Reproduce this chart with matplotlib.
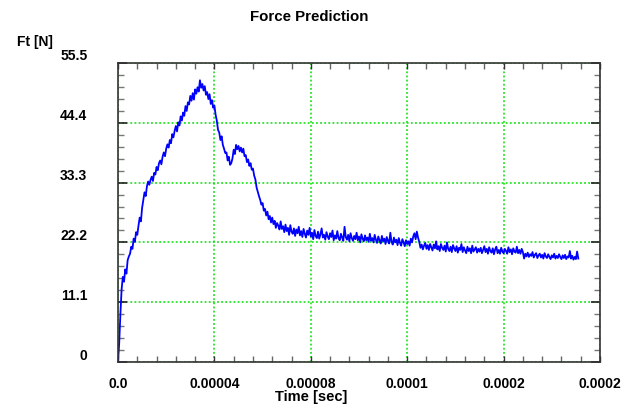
import matplotlib
matplotlib.use("Agg")
import matplotlib.pyplot as plt
from matplotlib.ticker import FixedLocator, FixedFormatter, MultipleLocator
from matplotlib.transforms import ScaledTranslation

plt.rcParams['font.family'] = ['Liberation Sans', 'DejaVu Sans']

# Sampling step of the force signal (seconds)
time_step = 0.5e-6
force = [
    0, 3.5, 9.0, 13.5, 15.8, 14.9, 17.2, 16.4, 18.9, 19.6,
    20.1, 21.4, 21.0, 22.9, 22.3, 24.1, 23.6, 25.3, 26.8, 26.1,
    28.6, 30.1, 31.5, 30.8, 32.6, 33.5, 32.9, 33.8, 34.4, 33.6,
    35.1, 34.8, 36.2, 35.6, 36.9, 37.4, 36.7, 38.1, 38.9, 38.2,
    39.6, 40.4, 39.8, 41.2, 40.6, 42.3, 41.7, 42.9, 43.8, 42.8,
    44.5, 43.9, 45.6, 44.8, 46.3, 45.7, 47.5, 46.6, 48.2, 47.8,
    49.4, 48.5, 49.9, 48.7, 50.6, 49.8, 51.0, 50.2, 52.3, 50.9,
    51.6, 50.4, 51.2, 49.6, 50.1, 48.8, 49.7, 47.9, 48.6, 47.2,
    47.6, 45.9, 44.8, 43.1, 42.6, 41.2, 41.9, 40.3, 39.6, 38.8,
    38.9, 37.4, 38.1, 36.6, 36.9, 37.8, 39.4, 38.6, 40.3, 39.5,
    40.1, 39.1, 39.8, 38.9, 39.6, 38.2, 38.4, 37.1, 37.6, 36.4,
    36.9, 35.7, 35.9, 34.6, 33.9, 32.4, 31.6, 30.8, 30.1, 29.2,
    29.5, 28.1, 28.4, 27.2, 27.9, 26.5, 27.1, 25.9, 26.8, 25.6,
    26.2, 24.9, 25.8, 25.3, 24.6, 26.1, 24.7, 25.2, 24.1, 25.5,
    24.3, 24.9, 23.6, 25.4, 24.2, 23.8, 24.8, 23.4, 24.6, 23.9,
    25.1, 23.5, 24.3, 23.2, 24.7, 23.8, 23.1, 24.4, 23.6, 24.9,
    23.3, 24.0, 22.8, 24.5, 23.4, 23.0, 24.2, 22.9, 23.7, 24.8,
    23.1, 23.6, 22.7, 24.1, 23.3, 22.8, 23.9, 23.2, 24.4, 22.6,
    23.5, 22.9, 24.3, 23.0, 22.6, 23.8, 23.1, 22.5, 25.1, 23.2,
    22.7, 23.6, 22.4, 23.9, 23.0, 22.5, 23.4, 22.8, 24.0, 22.6,
    23.3, 22.2, 23.7, 22.9, 22.4, 23.5, 22.6, 23.1, 22.3, 23.8,
    22.5, 23.0, 22.2, 23.6, 22.7, 22.1, 23.3, 22.6, 22.0, 23.4,
    22.4, 22.9, 21.9, 23.2, 22.5, 22.0, 24.0, 22.3, 21.8, 23.1,
    22.2, 22.7, 21.7, 23.0, 22.1, 21.6, 22.8, 22.2, 21.5, 22.6,
    21.9, 22.4, 21.6, 22.9, 22.2, 23.3, 23.9, 22.8, 24.2, 23.1,
    22.3, 21.2, 21.8, 20.9, 21.6, 22.1, 21.0, 21.7, 20.8, 21.9,
    21.3, 20.7, 21.8, 21.1, 22.4, 20.9, 21.5, 20.6, 21.9, 21.2,
    20.8, 21.6, 20.5, 22.2, 21.0, 20.6, 21.4, 20.4, 21.7, 21.1,
    20.6, 21.5, 20.3, 21.2, 20.8, 21.9, 20.4, 21.3, 20.7, 20.2,
    21.4, 20.6, 21.1, 20.2, 21.6, 20.5, 20.9, 21.3, 20.3, 21.0,
    20.5, 21.2, 20.2, 20.8, 21.5, 20.4, 21.0, 20.1, 21.3, 20.6,
    20.3, 21.1, 20.0, 20.9, 21.4, 20.2, 20.8, 20.1, 21.2, 20.5,
    20.2, 21.0, 20.6, 20.1, 21.3, 20.4, 20.9, 20.0, 21.1, 20.5,
    20.3, 21.4, 20.2, 20.8, 20.1, 21.0, 20.4, 19.2, 20.1, 19.6,
    20.3, 19.5, 20.0, 19.7, 20.4, 19.4, 19.9, 20.2, 19.3, 19.8,
    20.1, 19.4, 19.9, 19.2, 20.2, 19.6, 19.3, 20.0, 19.5, 19.1,
    19.8, 19.4, 20.1, 19.2, 19.7, 19.3, 20.0, 19.5, 19.1, 19.8,
    19.3, 19.9, 19.1, 19.6, 19.4, 20.6, 19.2, 19.7, 19.0, 19.5,
    19.1, 20.5, 19.2,
]
time = [i * time_step for i in range(len(force))]

x_ticks = [0.0, 0.00004, 0.00008, 0.00012, 0.00016, 0.0002]
x_tick_labels = ['0.0', '0.00004', '0.00008', '0.0001', '0.0002', '0.0002']
y_ticks = [0, 11.1, 22.2, 33.3, 44.4, 55.5]
y_tick_labels = ['0', '11.1', '22.2', '33.3', '44.4', '55.5']

fig = plt.figure(figsize=(6.33, 4.07), dpi=100)
ax = fig.add_axes([118/633, 45/407, 482/633, 299/407])

ax.plot(time, force, color='#0000ff', linewidth=1.3)

ax.set_xlim(0, 0.0002)
ax.set_ylim(0, 55.5)
ax.xaxis.set_major_locator(FixedLocator(x_ticks))
ax.xaxis.set_major_formatter(FixedFormatter(x_tick_labels))
ax.xaxis.set_minor_locator(MultipleLocator(0.000008))
ax.yaxis.set_major_locator(FixedLocator(y_ticks))
ax.yaxis.set_major_formatter(FixedFormatter(y_tick_labels))
ax.yaxis.set_minor_locator(MultipleLocator(2.22))

ax.grid(True, which='major', color='#00e000', linestyle=(0, (1.2, 1.5)), linewidth=1.1)

ax.tick_params(axis='both', which='both', direction='in', top=True, right=True)
ax.tick_params(axis='x', which='major', length=4.5, width=1.0, color='#333333', pad=11,
               labelsize=10)
ax.tick_params(axis='x', which='minor', length=4.5, width=1.0, color='#666666')
ax.tick_params(axis='y', which='major', length=6.5, width=1.2, color='#222222', pad=22,
               labelsize=10)
ax.tick_params(axis='y', which='minor', length=4.0, width=1.0, color='#777777')

for lab in ax.get_xticklabels() + ax.get_yticklabels():
    lab.set_fontweight('bold')
offset = ScaledTranslation(0, 0.08, fig.dpi_scale_trans)
for lab in ax.get_yticklabels():
    lab.set_transform(lab.get_transform() + offset)

for sp in ax.spines.values():
    sp.set_color('#333333')
    sp.set_linewidth(1.2)

fig.text(309/633, 1 - 17/407, 'Force Prediction', ha='center', va='center',
         fontsize=10.8, fontweight='bold')
fig.text(17/633, 1 - 42/407, 'Ft [N]', ha='left', va='center',
         fontsize=10, fontweight='bold')
fig.text(311/633, 1 - 397/407, 'Time [sec]', ha='center', va='center',
         fontsize=10.5, fontweight='bold')

fig.savefig('out.png', dpi=100)
